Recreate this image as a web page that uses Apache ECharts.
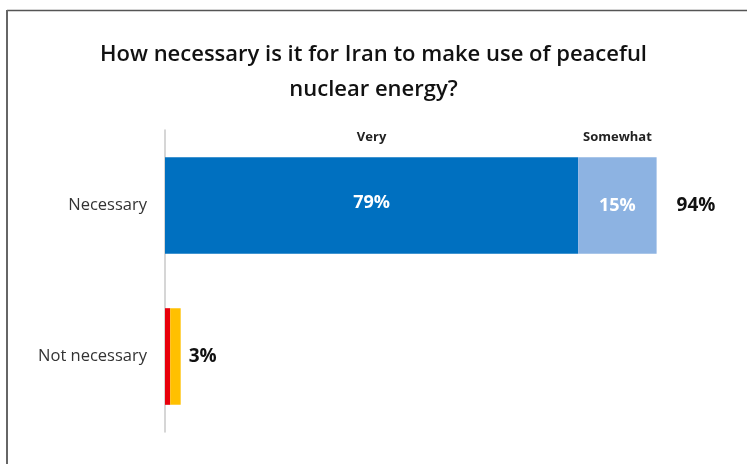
<!DOCTYPE html>
<html>
<head>
<meta charset="utf-8">
<script src="https://cdn.jsdelivr.net/npm/echarts@6/dist/echarts.min.js"></script>
<style>
html,body{margin:0;padding:0;background:#fff;}
#c{width:747px;height:464px;}
</style>
</head>
<body>
<div id="c"></div>
<script>
const titleText = 'How necessary is it for Iran to make use of peaceful\nnuclear energy?';
const categories = ['Necessary', 'Not necessary'];
const veryNecessary = [79, 0];
const somewhatNecessary = [15, 0];
const notAtAll = [0, 1];
const notVery = [0, 2];
const totals = [94, 3];
const headerNames = ['Very', 'Somewhat'];

const FONT = '"Open Sans", "Liberation Sans", sans-serif';
const chart = echarts.init(document.getElementById('c'));

const pct = p => (p.value ? p.value + '%' : '');
const totalDistances = [20, 8];

chart.setOption({
  animation: false,
  backgroundColor: '#fff',
  title: {
    text: titleText,
    left: 'center',
    top: 32,
    textStyle: { fontFamily: FONT, fontSize: 22, fontWeight: 600, color: '#111', lineHeight: 35 }
  },
  grid: { left: 165, right: 59, top: 130, bottom: 32, containLabel: false },
  xAxis: { type: 'value', min: 0, max: 100, show: false },
  yAxis: {
    type: 'category',
    data: categories,
    inverse: true,
    axisLine: { lineStyle: { color: '#c8c8c8', width: 1.5 } },
    axisTick: { show: false },
    axisLabel: { fontFamily: FONT, fontSize: 16.5, color: '#333', margin: 18 }
  },
  graphic: [
    { type: 'line', shape: { x1: 7, y1: 10.5, x2: 747, y2: 10.5 }, style: { stroke: '#555', lineWidth: 1.5 } },
    { type: 'line', shape: { x1: 7, y1: 10, x2: 7, y2: 464 }, style: { stroke: '#666', lineWidth: 2 } }
  ],
  series: [
    {
      name: 'Very', type: 'bar', stack: 'a', data: veryNecessary,
      barCategoryGap: '36%', barGap: '-100%',
      itemStyle: { color: '#0070C0' },
      label: { show: true, position: 'inside', offset: [0, -3], formatter: pct, color: '#fff', fontFamily: FONT, fontWeight: 'bold', fontSize: 18 }
    },
    {
      name: 'Somewhat', type: 'bar', stack: 'a', data: somewhatNecessary,
      itemStyle: { color: '#8DB3E2' },
      label: { show: true, position: 'inside', formatter: pct, color: '#fff', fontFamily: FONT, fontWeight: 'bold', fontSize: 18 }
    },
    {
      name: 'Not at all', type: 'bar', stack: 'a', data: notAtAll,
      itemStyle: { color: '#E8000B' }
    },
    {
      name: 'Not very', type: 'bar', stack: 'a', data: notVery,
      itemStyle: { color: '#FFC000' }
    },
    {
      name: 'Total', type: 'bar', stack: 'a',
      data: totals.map((t, i) => ({ value: 0, label: { distance: totalDistances[i] } })),
      itemStyle: { color: 'transparent' },
      label: {
        show: true, position: 'right', color: '#111', fontFamily: FONT, fontWeight: 'bold', fontSize: 19,
        formatter: p => totals[p.dataIndex] + '%'
      }
    },
    {
      name: headerNames[0], type: 'bar', stack: 'h', data: veryNecessary, barGap: '-100%',
      itemStyle: { color: 'transparent' }, silent: true,
      label: { show: true, position: 'top', distance: 13, formatter: p => (p.value ? p.seriesName : ''), color: '#222', fontFamily: FONT, fontWeight: 'bold', fontSize: 13 }
    },
    {
      name: headerNames[1], type: 'bar', stack: 'h', data: somewhatNecessary, barGap: '-100%',
      itemStyle: { color: 'transparent' }, silent: true,
      label: { show: true, position: 'top', distance: 13, formatter: p => (p.value ? p.seriesName : ''), color: '#222', fontFamily: FONT, fontWeight: 'bold', fontSize: 13 }
    }
  ]
});
</script>
</body>
</html>
